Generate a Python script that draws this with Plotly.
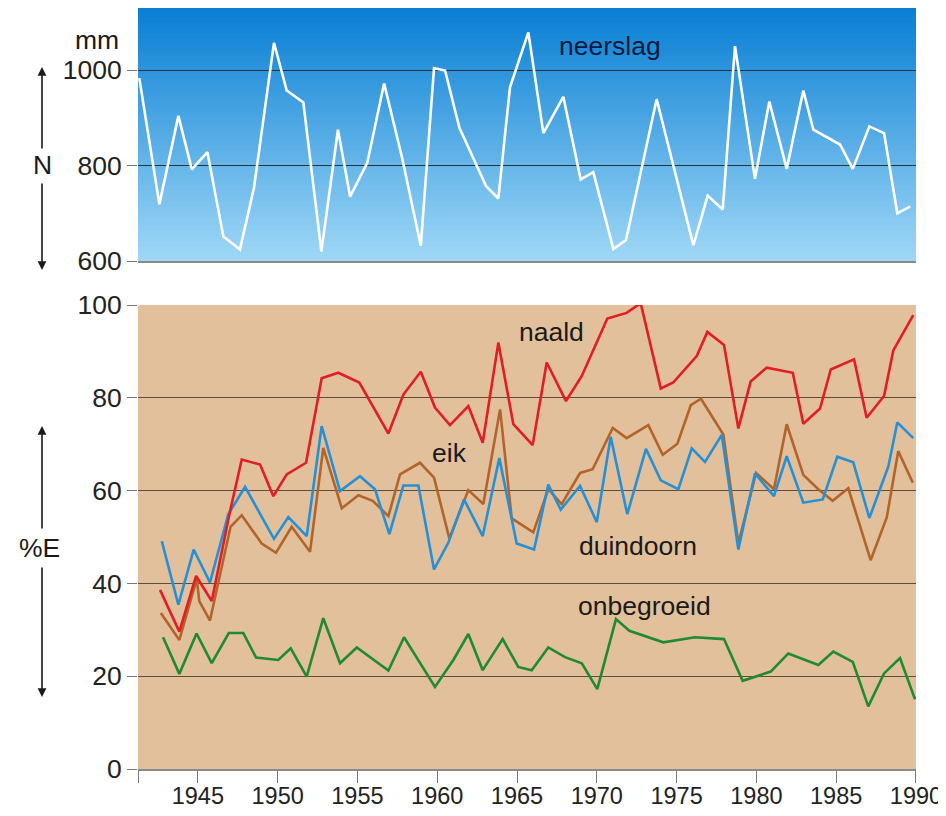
import plotly.graph_objects as go

# ---------------- data ----------------
neerslag_year = [1941.33, 1942.59, 1943.78, 1944.62, 1945.60, 1946.60, 1947.64, 1948.52, 1949.77, 1950.57,
                 1951.61, 1952.74, 1953.78, 1954.54, 1955.62, 1956.67, 1957.78, 1958.97, 1959.80, 1960.49,
                 1961.39, 1963.06, 1963.83, 1964.56, 1965.71, 1966.65, 1967.90, 1968.99, 1969.78, 1971.04,
                 1971.83, 1973.75, 1976.05, 1976.95, 1977.89, 1978.66, 1979.91, 1980.81, 1981.90, 1982.94,
                 1983.57, 1985.24, 1986.04, 1987.08, 1988.00, 1988.83, 1989.63]
neerslag_mm = [983, 719, 904, 792, 828, 651, 624, 754, 1057, 957,
               932, 620, 875, 735, 806, 972, 819, 632, 1004, 999,
               879, 757, 731, 964, 1079, 868, 944, 771, 786, 625,
               644, 939, 633, 737, 708, 1050, 772, 934, 793, 957,
               875, 844, 793, 882, 868, 700, 714]

naald_year = [1942.63, 1943.84, 1944.89, 1945.87, 1947.02, 1947.75, 1948.90, 1949.73, 1950.57, 1951.78,
              1952.76, 1953.80, 1955.12, 1956.94, 1957.88, 1958.97, 1959.86, 1960.80, 1961.95, 1962.85,
              1963.83, 1964.77, 1965.98, 1966.86, 1968.07, 1969.06, 1970.66, 1971.87, 1972.75, 1974.01,
              1974.79, 1976.26, 1976.93, 1977.97, 1978.87, 1979.64, 1980.65, 1982.28, 1982.94, 1983.99,
              1984.66, 1986.12, 1986.91, 1988.00, 1988.58, 1989.83]
naald = [38.6, 29.6, 41.6, 36.2, 55.6, 66.7, 65.6, 58.8, 63.5, 66.0,
         84.2, 85.4, 83.3, 72.3, 80.7, 85.6, 77.9, 74.1, 78.2, 70.3,
         91.9, 74.3, 69.8, 87.6, 79.3, 84.7, 97.1, 98.3, 100.4, 82.0,
         83.3, 89.0, 94.2, 91.4, 73.4, 83.5, 86.5, 85.4, 74.4, 77.7,
         86.1, 88.3, 75.7, 80.4, 90.2, 97.8]

duindoorn_year = [1942.74, 1943.78, 1944.74, 1945.76, 1946.91, 1947.96, 1949.77, 1950.67, 1951.82, 1952.76,
                  1953.91, 1955.16, 1956.10, 1957.00, 1957.88, 1958.82, 1959.80, 1960.70, 1961.68, 1962.85,
                  1963.89, 1964.98, 1966.07, 1966.96, 1967.74, 1968.95, 1970.00, 1970.87, 1971.91, 1973.08,
                  1974.01, 1975.11, 1975.95, 1976.78, 1977.83, 1978.87, 1979.91, 1981.10, 1981.90, 1982.94,
                  1984.16, 1985.07, 1986.07, 1987.08, 1988.27, 1988.83, 1989.83]
duindoorn = [49.1, 35.4, 47.3, 40.2, 54.9, 60.8, 49.6, 54.3, 50.2, 73.9,
             59.9, 63.1, 60.3, 50.6, 61.1, 61.1, 43.0, 48.8, 58.1, 50.2,
             67.0, 48.6, 47.3, 61.3, 55.9, 61.0, 53.2, 71.6, 54.9, 69.0,
             62.2, 60.3, 69.1, 66.2, 72.0, 47.3, 63.7, 58.8, 67.4, 57.4,
             58.1, 67.3, 66.1, 54.1, 65.2, 74.7, 71.3]

eik_year = [1942.68, 1943.84, 1944.93, 1945.09, 1945.76, 1947.05, 1947.75, 1949.00, 1949.90, 1950.88,
            1952.03, 1952.86, 1954.02, 1955.06, 1955.96, 1956.94, 1957.67, 1958.92, 1959.80, 1960.76,
            1961.95, 1962.89, 1963.94, 1964.67, 1966.02, 1966.96, 1967.80, 1968.95, 1969.74, 1971.00,
            1971.87, 1973.23, 1974.13, 1975.05, 1975.89, 1976.53, 1977.93, 1978.87, 1979.98, 1981.10,
            1981.90, 1982.94, 1983.88, 1984.78, 1985.76, 1987.16, 1988.17, 1988.89, 1989.80]
eik = [33.6, 27.8, 40.9, 36.2, 32.0, 52.2, 54.7, 48.6, 46.6, 52.2,
       46.8, 69.2, 56.2, 59.0, 57.8, 54.5, 63.5, 66.0, 62.8, 49.7,
       60.1, 57.1, 77.5, 54.0, 51.0, 60.3, 57.1, 63.8, 64.6, 73.5,
       71.3, 74.1, 67.7, 70.1, 78.4, 79.8, 72.1, 48.6, 63.8, 60.3,
       74.3, 63.4, 60.3, 57.8, 60.5, 45.0, 54.2, 68.5, 61.7]

onbegroeid_year = [1942.82, 1943.84, 1944.92, 1945.87, 1946.94, 1947.85, 1948.65, 1950.04, 1950.82, 1951.82,
                   1952.86, 1953.91, 1954.96, 1956.94, 1957.92, 1959.86, 1961.01, 1961.95, 1962.85, 1964.10,
                   1965.08, 1965.92, 1966.96, 1968.01, 1969.06, 1970.03, 1971.20, 1972.04, 1974.17, 1976.15,
                   1977.97, 1979.14, 1980.90, 1982.00, 1983.88, 1984.82, 1986.04, 1987.01, 1988.00, 1989.00,
                   1989.94]
onbegroeid = [28.4, 20.5, 29.2, 22.8, 29.3, 29.3, 24.0, 23.5, 26.0, 19.9,
              32.5, 22.8, 26.2, 21.2, 28.4, 17.7, 23.5, 29.1, 21.3, 28.0,
              22.0, 21.3, 26.2, 24.1, 22.8, 17.2, 32.3, 29.8, 27.3, 28.4,
              28.0, 19.0, 21.0, 24.9, 22.4, 25.3, 23.1, 13.5, 20.6, 23.9,
              15.0]

year_ticks = [1945, 1950, 1955, 1960, 1965, 1970, 1975, 1980, 1985, 1990]
pct_ticks = [0, 20, 40, 60, 80, 100]
mm_ticks = [600, 800, 1000]

X_RANGE = [1941.25, 1990.002]
FONT = "Liberation Sans, Arial, sans-serif"
FS = 26.5

fig = go.Figure()

line_w = 2.6
fig.add_trace(go.Scatter(x=onbegroeid_year, y=onbegroeid, mode="lines", name="onbegroeid",
                         line=dict(color="#1f8a2f", width=line_w), xaxis="x", yaxis="y"))
fig.add_trace(go.Scatter(x=eik_year, y=eik, mode="lines", name="eik",
                         line=dict(color="#b2642b", width=line_w), xaxis="x", yaxis="y"))
fig.add_trace(go.Scatter(x=duindoorn_year, y=duindoorn, mode="lines", name="duindoorn",
                         line=dict(color="#2590d6", width=line_w), xaxis="x", yaxis="y"))
fig.add_trace(go.Scatter(x=naald_year, y=naald, mode="lines", name="naald",
                         line=dict(color="#e11d25", width=line_w), xaxis="x", yaxis="y"))
fig.add_trace(go.Scatter(x=neerslag_year, y=neerslag_mm, mode="lines", name="neerslag",
                         line=dict(color="#ffffff", width=line_w), xaxis="x2", yaxis="y2"))

# vertical blue gradient behind the precipitation panel
shapes = []
n = 90
top_c = (8, 126, 212)
bot_c = (160, 216, 246)
for i in range(n):
    t = (i + 0.5) / n
    c = tuple(int(round(bot_c[k] + (top_c[k] - bot_c[k]) * t)) for k in range(3))
    shapes.append(dict(type="rect", xref="x2 domain", yref="y2 domain",
                       x0=0, x1=1, y0=i / n, y1=min(1, (i + 1) / n + 0.004),
                       fillcolor=f"rgb{c}", line=dict(width=0), layer="below"))

ann = []
label_font = dict(family=FONT, size=FS, color="#1a1a1a")
ann.append(dict(x=1970.83, y=1050, xref="x2", yref="y2", text="neerslag", showarrow=False,
                font=dict(family=FONT, size=FS, color="#0c1a3c")))
ann.append(dict(x=1967.19, y=94.2, xref="x", yref="y", text="naald", showarrow=False, font=label_font))
ann.append(dict(x=1960.80, y=68.1, xref="x", yref="y", text="eik", showarrow=False, font=label_font))
ann.append(dict(x=1972.56, y=48.1, xref="x", yref="y", text="duindoorn", showarrow=False, font=label_font))
ann.append(dict(x=1973.0, y=35.1, xref="x", yref="y", text="onbegroeid", showarrow=False, font=label_font))

# page pixels -> paper coords (plot area spans page x 138..916, y 8..769)
def px(xp):
    return (xp - 138) / 778.0

def py(yp):
    return (769 - yp) / 761.0

side_font = dict(family=FONT, size=FS, color="#1a1a1a")
for txt, xx, yy in [("mm", 97, 40), ("N", 42, 165), ("%E", 39, 548)]:
    ann.append(dict(x=px(xx), y=py(yy), xref="paper", yref="paper", text=txt, showarrow=False,
                    xanchor="center", yanchor="middle", font=side_font))

def arrow(xh, yh, yt):
    return dict(x=px(xh), y=py(yh), xref="paper", yref="paper", text="", showarrow=True,
                ax=0, ay=yt - yh, axref="pixel", ayref="pixel", arrowhead=2, arrowsize=1.1,
                arrowwidth=1.6, arrowcolor="#1a1a1a", standoff=0, startstandoff=0)

ann.append(arrow(42, 67, 150))
ann.append(arrow(42, 270, 182))
ann.append(arrow(42, 426, 530))
ann.append(arrow(42, 697, 566))

fig.update_layout(
    width=938, height=800,
    margin=dict(l=130, r=30, t=0, b=39, autoexpand=False),
    paper_bgcolor="white",
    plot_bgcolor="#e2c09b",
    showlegend=False,
    font=dict(family=FONT, size=FS, color="#222222"),
    shapes=shapes,
    annotations=ann,
    xaxis=dict(domain=[0, 1], anchor="y", range=X_RANGE, automargin=False,
               tickvals=[X_RANGE[0]] + year_ticks, ticktext=[""] + [str(v) for v in year_ticks],
               ticks="outside", ticklen=12, tickwidth=1, tickcolor="#7a7a7a",
               ticklabelstandoff=-7, ticklabeloverflow="allow",
               showline=True, linecolor="#8a8a8a", linewidth=1.5,
               showgrid=False, zeroline=False,
               tickfont=dict(family=FONT, size=23.5, color="#222222")),
    yaxis=dict(domain=[0, py(305)], anchor="x", range=[0, 100], automargin=False,
               tickvals=pct_ticks, ticks="outside", ticklen=10, tickwidth=1, tickcolor="#7a7a7a",
               showgrid=True, gridcolor="#5e4d3d", gridwidth=1, zeroline=False, showline=False,
               tickfont=dict(family=FONT, size=FS, color="#222222")),
    xaxis2=dict(domain=[0, 1], anchor="y2", range=X_RANGE, matches="x", automargin=False,
                showticklabels=False, ticks="", showgrid=False, zeroline=False,
                showline=True, linecolor="#8a8a8a", linewidth=2),
    yaxis2=dict(domain=[py(261), 1], anchor="x2", range=[600, 1130], automargin=False,
                tickvals=mm_ticks, ticks="outside", ticklen=10, tickwidth=1, tickcolor="#7a7a7a",
                showgrid=True, gridcolor="#26333f", gridwidth=1, zeroline=False, showline=False,
                tickfont=dict(family=FONT, size=FS, color="#222222")),
)

fig.write_html("out.html")
